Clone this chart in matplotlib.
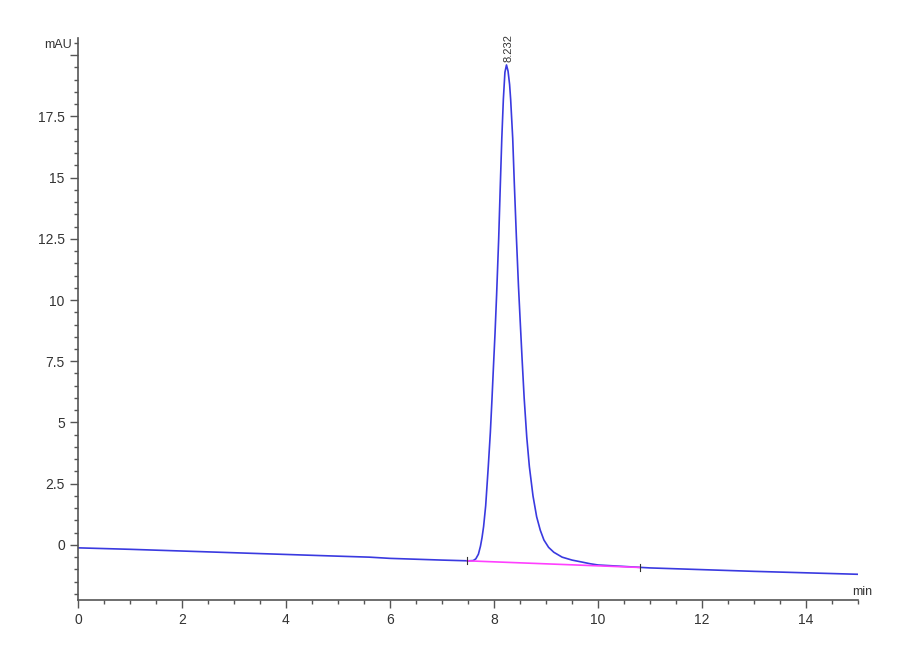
import numpy as np
import matplotlib.pyplot as plt
from matplotlib.ticker import MultipleLocator, FixedLocator

# Chromatogram trace (time in min, signal in mAU)
time_min = [0.0, 1.0, 2.0, 3.0, 4.0, 5.0, 5.6, 6.0, 7.0, 7.5, 7.6, 7.65, 7.7,
            7.74, 7.77, 7.80, 7.84, 7.89, 7.93, 7.96, 7.99, 8.02, 8.05, 8.09,
            8.12, 8.15, 8.18, 8.21, 8.24, 8.27, 8.30, 8.32, 8.36, 8.39, 8.43,
            8.47, 8.50, 8.54, 8.58, 8.63, 8.68, 8.75, 8.82, 8.89, 8.96, 9.05,
            9.15, 9.31, 9.5, 9.69, 9.85, 10.0, 10.5, 11.0, 12.0, 13.0, 14.0, 15.0]
signal_mau = [-0.12, -0.18, -0.25, -0.32, -0.39, -0.46, -0.50, -0.55, -0.62,
              -0.65, -0.64, -0.57, -0.38, -0.05, 0.3, 0.75, 1.6, 3.2, 4.6, 5.9,
              7.3, 8.65, 10.2, 12.5, 14.6, 16.6, 18.2, 19.3, 19.6, 19.35, 18.8,
              18.2, 16.6, 14.8, 12.6, 10.6, 9.3, 7.6, 6.0, 4.4, 3.2, 2.0, 1.15,
              0.6, 0.2, -0.1, -0.3, -0.5, -0.62, -0.7, -0.77, -0.82, -0.88,
              -0.94, -1.01, -1.08, -1.14, -1.2]

# integration baseline of the peak
base_t = [7.49, 10.8]
base_y = [-0.65, -0.92]

peak_rt = 8.232
peak_height = 19.6

plt.rcParams['font.family'] = ['Liberation Sans', 'DejaVu Sans']

fig = plt.figure(figsize=(9, 6.6), dpi=100)
ax = fig.add_axes([78 / 900, 60 / 660, 780 / 900, 562 / 660])

ax.plot(time_min, signal_mau, color='#3a3ae0', lw=1.2)
ax.plot(base_t, base_y, color='#ff40ff', lw=1.2)
for t, y in zip(base_t, base_y):
    ax.plot([t, t], [y - 0.15, y + 0.15], color='#333333', lw=0.8)

ax.text(peak_rt + 0.05, peak_height + 0.1, '8.232', rotation=90, fontsize=8,
        color='#333333', ha='center', va='bottom')

ax.set_xlim(0, 15)
ax.set_ylim(-2.25, 20.7)

for s in ['top', 'right']:
    ax.spines[s].set_visible(False)
for s in ['left', 'bottom']:
    ax.spines[s].set_color('#555555')
    ax.spines[s].set_linewidth(1.2)

ax.xaxis.set_major_locator(MultipleLocator(2))
ax.xaxis.set_minor_locator(MultipleLocator(0.5))
ax.yaxis.set_major_locator(FixedLocator([0, 2.5, 5, 7.5, 10, 12.5, 15, 17.5, 20]))
ax.yaxis.set_major_formatter(lambda v, p: '' if v >= 20 else ('%g' % v))
ax.yaxis.set_minor_locator(MultipleLocator(0.5))
ax.tick_params(which='major', length=6, width=1, color='#555555',
               labelsize=10, labelcolor='#333333', direction='out')
ax.tick_params(which='minor', length=3, width=1, color='#555555', direction='out')

fig.text(58 / 900, 1 - 45 / 660, 'mAU', fontsize=9, color='#333333',
         ha='center', va='center')
fig.text(852 / 900, 1 - 592 / 660, 'min', fontsize=9, color='#333333',
         ha='left', va='center')

plt.savefig('out.png', dpi=100)
